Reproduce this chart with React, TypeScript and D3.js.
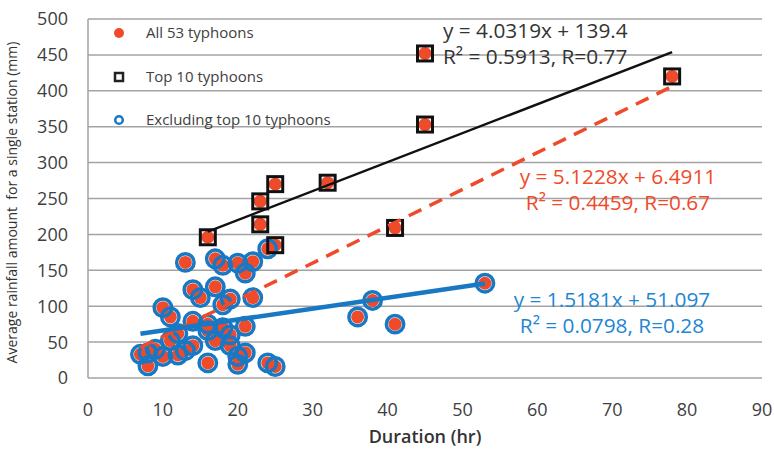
import { useRef, useEffect } from 'react';
import * as d3 from 'd3';

// Top 10 typhoons (duration hr, rainfall mm)
const topDur = [45, 78, 45, 32, 25, 23, 23, 41, 16, 25];
const topRain = [452, 420, 353, 272, 270, 246, 214, 209, 196, 185];

// Remaining 43 typhoons
const restDur = [53, 38, 36, 41, 24, 13, 17, 18, 20, 22, 21, 14, 17, 15, 19, 22, 18, 10, 11, 14, 16, 21, 18, 16, 19, 12, 11, 17, 14, 13, 9, 7, 8, 12, 8, 16, 20, 20, 24, 25, 19, 21, 10];
const restRain = [132, 108, 85, 75, 180, 161, 166, 157, 160, 162, 146, 123, 127, 112, 110, 112, 102, 98, 85, 79, 75, 72, 70, 66, 60, 62, 52, 52, 45, 38, 40, 33, 35, 32, 17, 21, 30, 19, 21, 16, 45, 35, 30];

const xTicks = [0, 10, 20, 30, 40, 50, 60, 70, 80, 90];
const yTicks = [0, 50, 100, 150, 200, 250, 300, 350, 400, 450, 500];

const fits = [
  { slope: 4.0319, icpt: 139.4, from: 16, to: 78, color: '#111', width: 2.5, dash: null },
  { slope: 5.1228, icpt: 6.4911, from: 7, to: 78, color: '#ef4a2a', width: 3.5, dash: '14,9' },
  { slope: 1.5181, icpt: 51.097, from: 7, to: 53, color: '#1878c4', width: 4.5, dash: null },
];

const RED = '#ef4a2a';
const BLUE = '#1878c4';
const FONT = '"Open Sans", sans-serif';

export default function App() {
  const svgRef = useRef<SVGSVGElement>(null);

  useEffect(() => {
    if (!svgRef.current) return;
    const width = 774;
    const height = 456;
    const margin = { top: 19, right: 12, bottom: 78, left: 88 };

    const svg = d3.select(svgRef.current);
    svg.selectAll('*').remove();
    svg.attr('width', width).attr('height', height);

    const x = d3.scaleLinear().domain([0, 90]).range([margin.left, width - margin.right]);
    const y = d3.scaleLinear().domain([0, 500]).range([height - margin.bottom, margin.top]);

    const top = topDur.map((d, i) => ({ d, r: topRain[i] }));
    const rest = restDur.map((d, i) => ({ d, r: restRain[i] }));
    const all = [...top, ...rest];

    // gridlines
    svg.selectAll('line.grid')
      .data(yTicks)
      .join('line')
      .attr('x1', x(0))
      .attr('x2', x(90))
      .attr('y1', d => y(d))
      .attr('y2', d => y(d))
      .attr('stroke', '#a3a3a3')
      .attr('stroke-width', 1.5);

    svg.append('line')
      .attr('x1', x(0)).attr('x2', x(0))
      .attr('y1', y(0)).attr('y2', y(500))
      .attr('stroke', '#a3a3a3')
      .attr('stroke-width', 1.5);

    // tick labels
    svg.selectAll('text.ytick')
      .data(yTicks)
      .join('text')
      .attr('x', 68)
      .attr('y', d => y(d))
      .attr('dy', '0.36em')
      .attr('text-anchor', 'end')
      .attr('font-family', FONT)
      .attr('font-size', 18)
      .attr('fill', '#404040')
      .text(d => d);

    svg.selectAll('text.xtick')
      .data(xTicks)
      .join('text')
      .attr('x', d => x(d))
      .attr('y', 416)
      .attr('text-anchor', 'middle')
      .attr('font-family', FONT)
      .attr('font-size', 18)
      .attr('fill', '#404040')
      .text(d => d);

    svg.append('text')
      .attr('x', 425)
      .attr('y', 443)
      .attr('text-anchor', 'middle')
      .attr('font-family', FONT)
      .attr('font-size', 18)
      .attr('font-weight', 600)
      .attr('fill', '#333')
      .text('Duration (hr)');

    svg.append('text')
      .attr('transform', `translate(17,${(y(0) + y(500)) / 2 + 4}) rotate(-90)`)
      .attr('text-anchor', 'middle')
      .attr('font-family', FONT)
      .attr('font-size', 14)
      .attr('fill', '#333')
      .attr('xml:space', 'preserve')
      .text('Average rainfall amount  for a single station (mm)');

    // red dots for all 53
    svg.selectAll('circle.dot')
      .data(all)
      .join('circle')
      .attr('cx', p => x(p.d))
      .attr('cy', p => y(p.r))
      .attr('r', 6.5)
      .attr('fill', RED);

    // blue rings for the rest
    svg.selectAll('circle.ring')
      .data(rest)
      .join('circle')
      .attr('cx', p => x(p.d))
      .attr('cy', p => y(p.r))
      .attr('r', 8.7)
      .attr('fill', 'none')
      .attr('stroke', BLUE)
      .attr('stroke-width', 3.5);

    // black squares for top 10
    svg.selectAll('rect.sq')
      .data(top)
      .join('rect')
      .attr('x', p => x(p.d) - 7.5)
      .attr('y', p => y(p.r) - 7.5)
      .attr('width', 15)
      .attr('height', 15)
      .attr('fill', 'none')
      .attr('stroke', '#111')
      .attr('stroke-width', 3);

    // trend lines
    fits.forEach(f => {
      svg.append('line')
        .attr('x1', x(f.from))
        .attr('y1', y(f.slope * f.from + f.icpt))
        .attr('x2', x(f.to))
        .attr('y2', y(f.slope * f.to + f.icpt))
        .attr('stroke', f.color)
        .attr('stroke-width', f.width)
        .attr('stroke-dasharray', f.dash);
    });

    // equations
    const eqs = [
      { lines: ['y = 4.0319x + 139.4', 'R² = 0.5913, R=0.77'], x: 443, y: 31, anchor: 'start', color: '#333' },
      { lines: ['y = 5.1228x + 6.4911', 'R² = 0.4459, R=0.67'], x: 618, y: 177, anchor: 'middle', color: '#ef4a2a' },
      { lines: ['y = 1.5181x + 51.097', 'R² = 0.0798, R=0.28'], x: 612, y: 300, anchor: 'middle', color: '#2186d4' },
    ];
    eqs.forEach(e => {
      e.lines.forEach((t, i) => {
        svg.append('text')
          .attr('x', e.x)
          .attr('y', e.y + i * 26)
          .attr('dy', '0.36em')
          .attr('text-anchor', e.anchor)
          .attr('font-family', FONT)
          .attr('font-size', 20.8)
          .attr('fill', e.color)
          .text(t);
      });
    });

    // legend
    const lg = svg.append('g').attr('font-family', FONT).attr('font-size', 15).attr('fill', '#404040');
    lg.append('circle').attr('cx', 119).attr('cy', 33).attr('r', 5).attr('fill', RED);
    lg.append('rect').attr('x', 115).attr('y', 73).attr('width', 8).attr('height', 8)
      .attr('fill', 'none').attr('stroke', '#222').attr('stroke-width', 2.5);
    lg.append('circle').attr('cx', 119).attr('cy', 120).attr('r', 3.8)
      .attr('fill', 'none').attr('stroke', BLUE).attr('stroke-width', 2.5);
    [['All 53 typhoons', 33], ['Top 10 typhoons', 77], ['Excluding top 10 typhoons', 120]].forEach(([t, yy]) => {
      lg.append('text').attr('x', 146).attr('y', yy as number).attr('dy', '0.36em').text(t as string);
    });
  }, []);

  return <svg ref={svgRef} style={{ position: 'absolute', left: 0, top: 0 }} />;
}
